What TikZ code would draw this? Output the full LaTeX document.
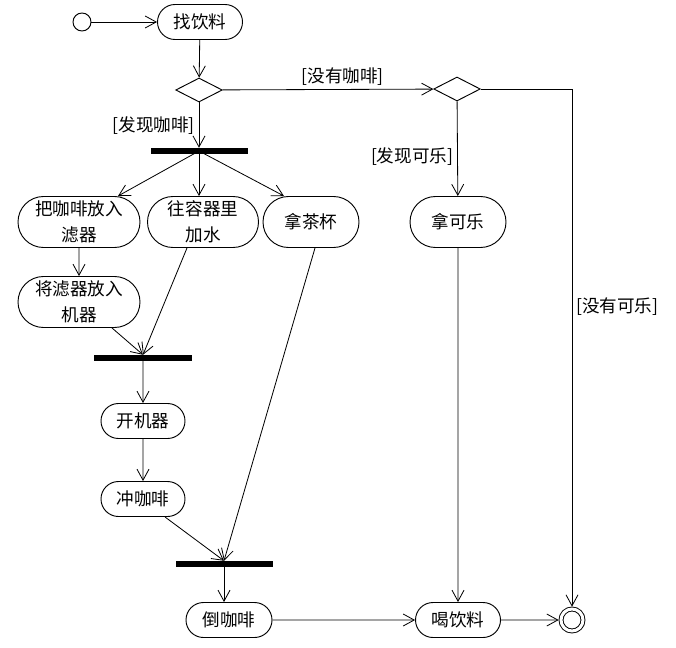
\documentclass[tikz,border=0pt]{standalone}
\usepackage{fontspec}
\newfontfamily\cjk{Noto Sans CJK SC}
\usetikzlibrary{arrows.meta,positioning,calc,shapes.geometric,shapes.misc}

\begin{document}
\begin{tikzpicture}[x=0.03cm, y=-0.03cm,
  act/.style={draw, rounded rectangle, line width=0.8pt, font=\cjk\fontsize{15}{22}\selectfont, minimum height=1.05cm, align=center, inner sep=0pt},
  choice/.style={draw, diamond, line width=0.8pt, minimum width=1.4cm, minimum height=0.72cm, inner sep=0pt},
  bar/.style={fill=black, minimum height=0.18cm, inner sep=0pt},
  arr/.style={-{Straight Barb[length=3.3mm, width=3.6mm]}, line width=0.7pt},
  guard/.style={font=\cjk\fontsize{15}{18}\selectfont},
]
  \useasboundingbox (0,0) rectangle (676,648);

  \node[circle, draw, line width=0.8pt, minimum size=0.54cm, inner sep=0pt] (init) at (82,22) {};
  \node[act, minimum width=2.55cm] (find) at (200,22) {找饮料};
  \node[choice] (dec1) at (199,90) {};
  \node[choice] (dec2) at (457,89) {};

  \node[act, minimum width=3.66cm, minimum height=1.53cm] (filter) at (79,222) {把咖啡放入\\滤器};
  \node[act, minimum width=3.33cm, minimum height=1.53cm] (water) at (203,222) {往容器里\\加水};
  \node[act, minimum width=2.88cm, minimum height=1.53cm] (cup) at (311,222) {拿茶杯};
  \node[act, minimum width=2.88cm, minimum height=1.53cm] (cola) at (458,222) {拿可乐};
  \node[act, minimum width=3.66cm, minimum height=1.53cm] (insert) at (79,302) {将滤器放入\\机器};

  \node[act, minimum width=2.52cm] (switch) at (143,421) {开机器};
  \node[act, minimum width=2.52cm] (brew) at (143,499) {冲咖啡};
  \node[act, minimum width=2.58cm] (pour) at (229,620) {倒咖啡};
  \node[act, minimum width=2.55cm] (drink) at (458,620) {喝饮料};
  \node[circle, draw, line width=0.8pt, double, double distance=0.09cm, minimum size=0.66cm, inner sep=0pt, outer sep=2pt] (final) at (572,620) {};

  % bars
  \node[bar, minimum width=2.91cm] (fork1) at (199,151) {};
  \node[bar, minimum width=2.94cm] (join1) at (143,358) {};
  \node[bar, minimum width=2.91cm] (join2) at (224,564) {};

  % decisions
  \draw[arr] (init) -- (find);
  \draw[arr] (find) -- (dec1);
  \draw[arr] (dec1) -- node[guard, left] {[发现咖啡]} (fork1);
  \draw[arr] (dec1) -- node[guard, above, pos=0.57] {[没有咖啡]} (dec2);
  \draw[arr] (dec2) -- node[guard, left, pos=0.58] {[发现可乐]} (cola);
  \draw[arr] (dec2.east) -| node[guard, right, pos=0.71] {[没有可乐]} (final);

  % fork
  \draw[arr] (fork1.center) -- ($(filter.north)+(39,0)$);
  \draw[arr] (fork1.center) -- (fork1 |- water.north);
  \draw[arr] (fork1.center) -- ($(cup.north)+(-27,0)$);

  % coffee branch
  \draw[arr] (filter) -- (insert);
  \draw[arr] ($(insert.south)+(33,0)$) -- (join1.north);
  \draw[arr] ($(water.south)+(-16,0)$) -- (join1.north);
  \draw[arr] (join1.center) -- (switch);
  \draw[arr] (switch) -- (brew);
  \draw[arr] ($(brew.south)+(22,0)$) -- (join2.north);
  \draw[arr] ($(cup.south)+(4,0)$) -- (join2.north);
  \draw[arr] (join2.center) -- (join2 |- pour.north);

  % end
  \draw[arr] (pour) -- (drink);
  \draw[arr] (cola) -- (drink);
  \draw[arr] (drink) -- (final);
\end{tikzpicture}
\end{document}
